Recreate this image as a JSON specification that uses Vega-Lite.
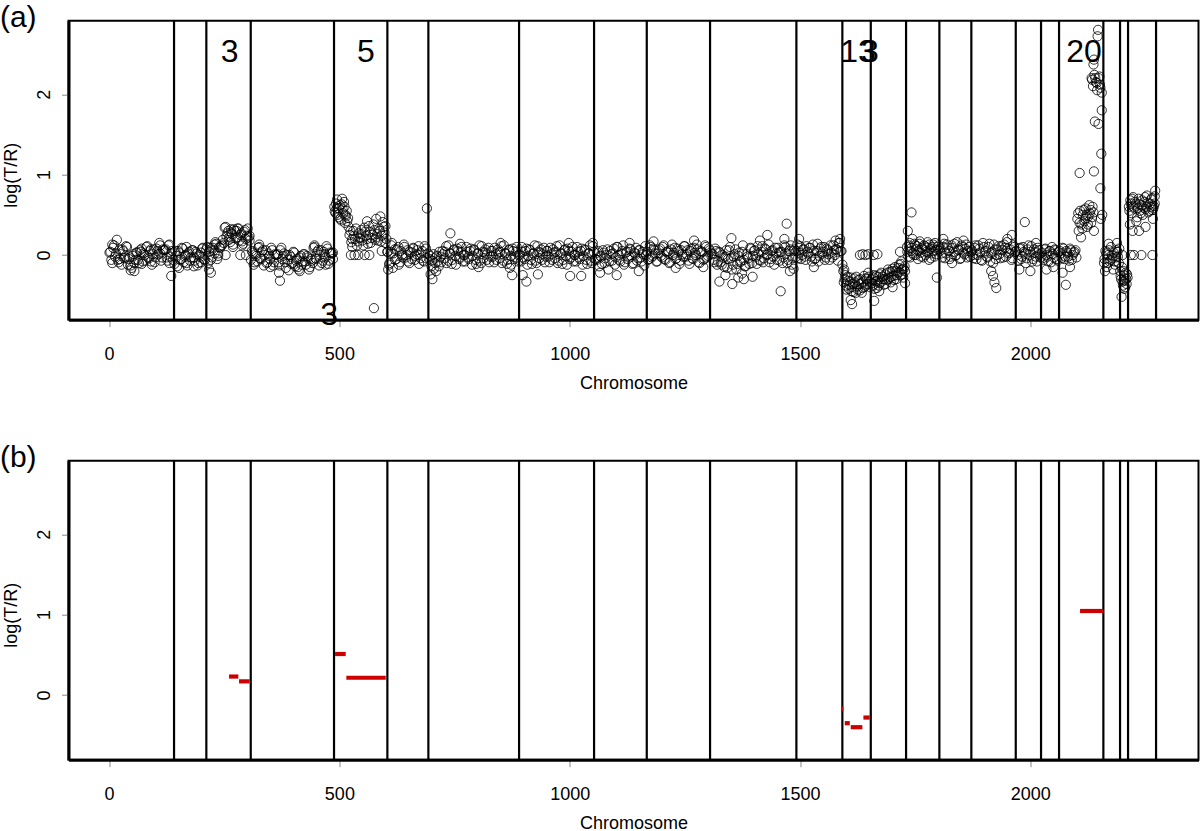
{
"$schema": "https://vega.github.io/schema/vega-lite/v6.json",
"background": "white",
"padding": {"left": -1.5, "top": 1.7, "right": 0, "bottom": 0},
"spacing": 141,
"bounds": "flush",
"config": {
  "view": {"stroke": "black", "strokeWidth": 2},
  "axis": {"grid": false, "labelFont": "Liberation Sans", "titleFont": "Liberation Sans", "labelFontSize": 18, "titleFontSize": 18, "titleFontWeight": "normal", "labelColor": "black", "titleColor": "black", "tickColor": "#888888", "tickSize": 7, "tickWidth": 1, "domainColor": "black", "domainWidth": 3},
  "axisX": {"labelPadding": 33, "labelBaseline": "alphabetic", "titleBaseline": "alphabetic", "titleY": 69, "labelFlush": false, "labelOverlap": false},
  "axisY": {"labelAngle": 270, "labelAlign": "center", "labelBaseline": "alphabetic", "labelPadding": 12.5, "titleAngle": 270, "titleAlign": "center", "titleBaseline": "alphabetic", "titleX": -51.7, "titleY": 154}
},
"datasets": {
  "bounds": [{"x":141.1},{"x":211.2},{"x":307.6},{"x":488.4},{"x":604.2},{"x":693.2},{"x":890.1},{"x":1052.9},{"x":1167.3},{"x":1304.7},{"x":1492.1},{"x":1591.9},{"x":1653.6},{"x":1730.2},{"x":1802.5},{"x":1871.9},{"x":1968.3},{"x":2023.2},{"x":2062.3},{"x":2158.5},{"x":2194.7},{"x":2212.1},{"x":2272.9}],
  "segs": [{"x0":260.5,"x1":280.7,"y":0.23},{"x0":282.2,"x1":305.4,"y":0.17},{"x0":490.6,"x1":513.8,"y":0.51},{"x0":515.1,"x1":600.7,"y":0.215},{"x0":1589.7,"x1":1594.1,"y":-0.17},{"x0":1597.1,"x1":1608,"y":-0.35},{"x0":1610.1,"x1":1635.3,"y":-0.4},{"x0":1637.6,"x1":1651.4,"y":-0.28},{"x0":2107.9,"x1":2157.8,"y":1.045}],
  "labs": [{"x":261.6,"y":2.405,"t":"3"},{"x":557.3,"y":2.405,"t":"5"},{"x":1626,"y":2.405,"t":"13"},{"x":1651.6,"y":2.405,"t":"3"},{"x":2116.6,"y":2.405,"t":"20"},{"x":477.6,"y":-0.866,"t":"3"}],
  "tagA": [{"x":-197.1,"y":2.836,"t":"(a)"}],
  "tagB": [{"x":-197.1,"y":2.836,"t":"(b)"}],
  "pts": [
{"x":1,"y":0.03},{"x":5,"y":-0.06},{"x":9,"y":0.09},{"x":13,"y":-0.02},{"x":17,"y":0.19},{"x":21,"y":-0.09},{"x":25,"y":0.01},{"x":29,"y":0.07},{"x":33,"y":-0.04},{"x":37,"y":0.11},{"x":41,"y":-0.12},{"x":45,"y":-0.03},{"x":49,"y":-0.16},{"x":53,"y":0.01},{"x":57,"y":-0.06},{"x":61,"y":0.03},{"x":65,"y":-0.1},{"x":69,"y":0.04},{"x":73,"y":-0.08},{"x":77,"y":0},{"x":81,"y":0.1},{"x":85,"y":-0.03},{"x":89,"y":0.05},{"x":93,"y":-0.12},{"x":97,"y":0.07},{"x":101,"y":-0.03},{"x":105,"y":0.05},{"x":109,"y":0.15},{"x":113,"y":-0.07},{"x":117,"y":0.07},{"x":121,"y":0.06},{"x":125,"y":-0.03},{"x":129,"y":0.12},{"x":133,"y":-0.02},{"x":137,"y":0.05},
{"x":7,"y":0.13},{"x":23,"y":-0.05},{"x":47,"y":-0.19},{"x":55,"y":-0.2},{"x":71,"y":0.08},{"x":91,"y":-0.08},{"x":111,"y":0.02},{"x":131,"y":-0.1},{"x":135,"y":-0.26},
{"x":3,"y":0.04},{"x":7,"y":-0.1},{"x":11,"y":0.12},{"x":15,"y":0.02},{"x":19,"y":-0.06},{"x":23,"y":0.07},{"x":27,"y":-0.12},{"x":31,"y":0.05},{"x":35,"y":-0.03},{"x":39,"y":0.1},{"x":43,"y":-0.05},{"x":47,"y":-0.13},{"x":51,"y":-0.01},{"x":55,"y":-0.1},{"x":59,"y":0.03},{"x":63,"y":-0.06},{"x":67,"y":0.06},{"x":71,"y":-0.11},{"x":75,"y":0.02},{"x":79,"y":-0.07},{"x":83,"y":0.11},{"x":87,"y":-0.04},{"x":91,"y":0.07},{"x":95,"y":0.01},{"x":99,"y":-0.09},{"x":103,"y":0.08},{"x":107,"y":0.01},{"x":111,"y":0.12},{"x":115,"y":-0.03},{"x":119,"y":0.06},{"x":123,"y":0.07},{"x":127,"y":-0.07},{"x":131,"y":0.13},{"x":135,"y":0.02},{"x":139,"y":-0.06},
{"x":142,"y":-0.11},{"x":146,"y":-0.01},{"x":150,"y":0.05},{"x":154,"y":-0.06},{"x":158,"y":0.09},{"x":162,"y":-0.09},{"x":166,"y":0},{"x":170,"y":-0.13},{"x":174,"y":0.04},{"x":178,"y":-0.03},{"x":182,"y":0.06},{"x":186,"y":-0.07},{"x":190,"y":0.02},{"x":194,"y":-0.1},{"x":198,"y":-0.02},{"x":202,"y":0.08},{"x":206,"y":-0.05},{"x":152,"y":-0.16},{"x":168,"y":0.1},{"x":184,"y":-0.14},{"x":200,"y":0.03},
{"x":144,"y":0.05},{"x":148,"y":-0.14},{"x":152,"y":0.03},{"x":156,"y":-0.05},{"x":160,"y":0.08},{"x":164,"y":-0.02},{"x":168,"y":-0.1},{"x":172,"y":0.02},{"x":176,"y":-0.07},{"x":180,"y":0.06},{"x":184,"y":-0.03},{"x":188,"y":0.04},{"x":192,"y":-0.13},{"x":196,"y":0},{"x":200,"y":-0.09},{"x":204,"y":0.09},{"x":208,"y":-0.06},
{"x":211,"y":0.07},{"x":215,"y":-0.1},{"x":219,"y":0.09},{"x":223,"y":-0.03},{"x":227,"y":0.06},{"x":231,"y":0.16},{"x":235,"y":-0.05},{"x":239,"y":0.1},{"x":243,"y":0.11},{"x":217,"y":-0.18},{"x":221,"y":-0.22},{"x":229,"y":0.13},{"x":237,"y":0.02},
{"x":213,"y":0.1},{"x":217,"y":0.04},{"x":221,"y":-0.06},{"x":225,"y":0.09},{"x":229,"y":0.02},{"x":233,"y":0.14},{"x":237,"y":-0.01},{"x":241,"y":0.09},{"x":245,"y":0.12},
{"x":247,"y":0.19},{"x":251,"y":0.34},{"x":255,"y":0.23},{"x":259,"y":0.3},{"x":263,"y":0.16},{"x":267,"y":0.26},{"x":271,"y":0.32},{"x":275,"y":0.21},{"x":279,"y":0.33},{"x":283,"y":0.18},{"x":287,"y":0.27},{"x":291,"y":0.14},{"x":295,"y":0.31},{"x":299,"y":0.24},{"x":303,"y":0.22},{"x":253,"y":0},{"x":265,"y":0.28},{"x":277,"y":0.3},{"x":285,"y":0},{"x":289,"y":0.12},{"x":297,"y":0},{"x":305,"y":0.18},{"x":261,"y":0.22},{"x":269,"y":0.1},
{"x":249,"y":0.15},{"x":253,"y":0.35},{"x":257,"y":0.27},{"x":261,"y":0.19},{"x":265,"y":0.32},{"x":269,"y":0.13},{"x":273,"y":0.3},{"x":277,"y":0.22},{"x":281,"y":0.33},{"x":285,"y":0.25},{"x":289,"y":0.17},{"x":293,"y":0.29},{"x":297,"y":0.2},{"x":301,"y":0.33},{"x":305,"y":0.24},
{"x":308,"y":-0.06},{"x":312,"y":0.03},{"x":316,"y":-0.09},{"x":320,"y":-0.01},{"x":324,"y":0.09},{"x":328,"y":-0.04},{"x":332,"y":0.04},{"x":336,"y":-0.13},{"x":340,"y":0.06},{"x":344,"y":-0.09},{"x":348,"y":-0.01},{"x":352,"y":0.09},{"x":356,"y":-0.13},{"x":360,"y":0.01},{"x":364,"y":0},{"x":368,"y":-0.09},{"x":372,"y":0.06},{"x":376,"y":-0.05},{"x":380,"y":0.02},{"x":384,"y":-0.16},{"x":388,"y":-0.06},{"x":392,"y":0},{"x":396,"y":-0.11},{"x":400,"y":0.04},{"x":404,"y":-0.14},{"x":408,"y":-0.05},{"x":412,"y":-0.18},{"x":416,"y":-0.01},{"x":420,"y":-0.08},{"x":424,"y":0.01},{"x":428,"y":-0.12},{"x":432,"y":-0.03},{"x":436,"y":-0.15},{"x":440,"y":-0.07},{"x":444,"y":0.09},{"x":448,"y":-0.04},{"x":452,"y":0.04},{"x":456,"y":-0.13},{"x":460,"y":0.06},{"x":464,"y":-0.07},{"x":468,"y":0.01},{"x":472,"y":0.11},{"x":476,"y":-0.11},{"x":480,"y":0.03},{"x":484,"y":0.02},
{"x":369,"y":-0.22},{"x":371,"y":-0.32},{"x":326,"y":0.13},{"x":350,"y":-0.15},{"x":414,"y":-0.2},{"x":446,"y":0.12},{"x":470,"y":-0.12},{"x":486,"y":-0.05},
{"x":310,"y":0.05},{"x":314,"y":-0.12},{"x":318,"y":0.01},{"x":322,"y":-0.08},{"x":326,"y":0.1},{"x":330,"y":-0.05},{"x":334,"y":0.06},{"x":338,"y":0},{"x":342,"y":-0.1},{"x":346,"y":0.02},{"x":350,"y":-0.05},{"x":354,"y":0.06},{"x":358,"y":-0.09},{"x":362,"y":0},{"x":366,"y":0.01},{"x":370,"y":-0.13},{"x":374,"y":0.09},{"x":378,"y":-0.01},{"x":382,"y":-0.09},{"x":386,"y":0},{"x":390,"y":-0.19},{"x":394,"y":-0.02},{"x":398,"y":-0.1},{"x":402,"y":0.03},{"x":406,"y":-0.07},{"x":410,"y":-0.15},{"x":414,"y":-0.03},{"x":418,"y":-0.12},{"x":422,"y":0.01},{"x":426,"y":-0.08},{"x":430,"y":-0.01},{"x":434,"y":-0.18},{"x":438,"y":-0.05},{"x":442,"y":-0.1},{"x":446,"y":0.1},{"x":450,"y":-0.05},{"x":454,"y":0.06},{"x":458,"y":0},{"x":462,"y":-0.1},{"x":466,"y":0.04},{"x":470,"y":-0.03},{"x":474,"y":0.08},{"x":478,"y":-0.07},{"x":482,"y":0.02},{"x":486,"y":0.03},
{"x":489,"y":0.6},{"x":492,"y":0.52},{"x":495,"y":0.69},{"x":498,"y":0.47},{"x":501,"y":0.62},{"x":504,"y":0.43},{"x":507,"y":0.57},{"x":510,"y":0.66},{"x":513,"y":0.5},{"x":516,"y":0.55},{"x":519,"y":0.46},{"x":494,"y":0.58},{"x":506,"y":0.7},{"x":512,"y":0.4},
{"x":490,"y":0.54},{"x":493,"y":0.64},{"x":496,"y":0.5},{"x":499,"y":0.58},{"x":502,"y":0.45},{"x":505,"y":0.63},{"x":508,"y":0.52},{"x":511,"y":0.6},{"x":514,"y":0.48},{"x":517,"y":0.42},{"x":520,"y":0.35},
{"x":522,"y":0.25},{"x":526,"y":0.16},{"x":530,"y":0.3},{"x":534,"y":0.2},{"x":538,"y":0.12},{"x":542,"y":0.27},{"x":546,"y":0.22},{"x":550,"y":0.18},{"x":554,"y":0.34},{"x":558,"y":0.24},{"x":562,"y":0.14},{"x":566,"y":0.29},{"x":570,"y":0.21},{"x":574,"y":0.38},{"x":578,"y":0.19},{"x":582,"y":0.26},{"x":586,"y":0.33},{"x":590,"y":0.17},{"x":594,"y":0.41},{"x":598,"y":0.28},{"x":602,"y":0.2},
{"x":524,"y":0.3},{"x":528,"y":0.2},{"x":532,"y":0.24},{"x":536,"y":0.33},{"x":540,"y":0.17},{"x":544,"y":0.21},{"x":548,"y":0.26},{"x":552,"y":0.12},{"x":556,"y":0.29},{"x":560,"y":0.2},{"x":564,"y":0.36},{"x":568,"y":0.15},{"x":572,"y":0.25},{"x":576,"y":0.31},{"x":580,"y":0.22},{"x":584,"y":0.18},{"x":588,"y":0.3},{"x":592,"y":0.24},{"x":596,"y":0.35},{"x":600,"y":0.15},
{"x":525,"y":0},{"x":533,"y":0},{"x":541,"y":0},{"x":555,"y":0},{"x":565,"y":0},{"x":575,"y":-0.66},{"x":580,"y":0.45},{"x":560,"y":0.42},{"x":592,"y":0.05},{"x":600,"y":0.36},{"x":528,"y":0.1},{"x":548,"y":0.31},{"x":589,"y":0.48},
{"x":604,"y":0.04},{"x":608,"y":-0.12},{"x":612,"y":0.02},{"x":616,"y":-0.16},{"x":620,"y":0.07},{"x":624,"y":-0.05},{"x":628,"y":0.1},{"x":632,"y":-0.09},{"x":636,"y":0},{"x":640,"y":0.13},{"x":644,"y":-0.03},{"x":648,"y":0.06},{"x":652,"y":-0.1},{"x":656,"y":0.03},{"x":660,"y":0.09},{"x":664,"y":-0.06},{"x":668,"y":0.01},{"x":672,"y":0.11},{"x":676,"y":-0.04},{"x":680,"y":0.05},{"x":684,"y":-0.08},{"x":688,"y":0.08},{"x":692,"y":0.02},{"x":606,"y":-0.18},{"x":614,"y":0.15},{"x":690,"y":0.58},
{"x":605,"y":0.04},{"x":609,"y":-0.1},{"x":613,"y":0.12},{"x":617,"y":0.02},{"x":621,"y":-0.06},{"x":625,"y":0.07},{"x":629,"y":-0.12},{"x":633,"y":0.05},{"x":637,"y":-0.03},{"x":641,"y":0.1},{"x":645,"y":0},{"x":649,"y":-0.08},{"x":653,"y":0.04},{"x":657,"y":-0.05},{"x":661,"y":0.08},{"x":665,"y":-0.01},{"x":669,"y":0.06},{"x":673,"y":-0.11},{"x":677,"y":0.02},{"x":681,"y":-0.07},{"x":685,"y":0.11},{"x":689,"y":-0.04},
{"x":696,"y":-0.05},{"x":700,"y":-0.14},{"x":704,"y":0.01},{"x":708,"y":-0.1},{"x":712,"y":-0.01},{"x":716,"y":-0.14},{"x":720,"y":-0.02},{"x":724,"y":0.05},{"x":728,"y":-0.04},{"x":732,"y":0.11},{"x":736,"y":-0.07},{"x":740,"y":0.02},{"x":744,"y":-0.11},{"x":748,"y":0.06},{"x":752,"y":-0.01},{"x":756,"y":0.08},{"x":760,"y":-0.05},{"x":764,"y":0.04},{"x":768,"y":-0.08},{"x":772,"y":0},{"x":776,"y":0.1},{"x":780,"y":-0.03},{"x":784,"y":0.05},{"x":788,"y":-0.12},{"x":792,"y":0.07},{"x":796,"y":-0.06},{"x":800,"y":0.02},{"x":804,"y":0.12},{"x":808,"y":-0.1},{"x":812,"y":0.04},{"x":816,"y":0.03},{"x":820,"y":-0.06},{"x":824,"y":0.09},{"x":828,"y":-0.02},{"x":832,"y":0.05},{"x":836,"y":-0.09},{"x":840,"y":0.01},{"x":844,"y":0.07},{"x":848,"y":-0.04},{"x":852,"y":0.11},{"x":856,"y":-0.07},{"x":860,"y":0.02},{"x":864,"y":-0.11},{"x":868,"y":0.06},{"x":872,"y":-0.01},{"x":876,"y":0.08},{"x":880,"y":-0.05},{"x":884,"y":0.04},{"x":888,"y":-0.08},
{"x":698,"y":-0.24},{"x":702,"y":-0.3},{"x":710,"y":-0.2},{"x":741,"y":0.27},{"x":762,"y":0.14},{"x":802,"y":-0.15},{"x":850,"y":0.15},{"x":870,"y":-0.16},{"x":875,"y":-0.25},
{"x":697,"y":-0.01},{"x":701,"y":-0.07},{"x":705,"y":-0.17},{"x":709,"y":-0.03},{"x":713,"y":-0.08},{"x":717,"y":0.04},{"x":721,"y":-0.09},{"x":725,"y":0.01},{"x":729,"y":0.04},{"x":733,"y":-0.1},{"x":737,"y":0.12},{"x":741,"y":0.02},{"x":745,"y":-0.06},{"x":749,"y":0.07},{"x":753,"y":-0.12},{"x":757,"y":0.05},{"x":761,"y":-0.03},{"x":765,"y":0.1},{"x":769,"y":0},{"x":773,"y":-0.08},{"x":777,"y":0.04},{"x":781,"y":-0.05},{"x":785,"y":0.08},{"x":789,"y":-0.01},{"x":793,"y":0.06},{"x":797,"y":-0.11},{"x":801,"y":0.02},{"x":805,"y":-0.07},{"x":809,"y":0.11},{"x":813,"y":-0.04},{"x":817,"y":0.07},{"x":821,"y":0.01},{"x":825,"y":-0.09},{"x":829,"y":0.05},{"x":833,"y":-0.02},{"x":837,"y":0.09},{"x":841,"y":-0.06},{"x":845,"y":0.03},{"x":849,"y":0.04},{"x":853,"y":-0.1},{"x":857,"y":0.12},{"x":861,"y":0.02},{"x":865,"y":-0.06},{"x":869,"y":0.07},{"x":873,"y":-0.12},{"x":877,"y":0.05},{"x":881,"y":-0.03},{"x":885,"y":0.1},{"x":889,"y":0},
{"x":892,"y":0},{"x":896,"y":0.1},{"x":900,"y":-0.03},{"x":904,"y":0.05},{"x":908,"y":-0.12},{"x":912,"y":0.07},{"x":916,"y":-0.06},{"x":920,"y":0.02},{"x":924,"y":0.12},{"x":928,"y":-0.1},{"x":932,"y":0.04},{"x":936,"y":0.03},{"x":940,"y":-0.06},{"x":944,"y":0.09},{"x":948,"y":-0.02},{"x":952,"y":0.05},{"x":956,"y":-0.09},{"x":960,"y":0.01},{"x":964,"y":0.07},{"x":968,"y":-0.04},{"x":972,"y":0.11},{"x":976,"y":-0.07},{"x":980,"y":0.02},{"x":984,"y":-0.11},{"x":988,"y":0.06},{"x":992,"y":-0.01},{"x":996,"y":0.08},{"x":1000,"y":-0.05},{"x":1004,"y":0.04},{"x":1008,"y":-0.08},{"x":1012,"y":0},{"x":1016,"y":0.1},{"x":1020,"y":-0.03},{"x":1024,"y":0.05},{"x":1028,"y":-0.12},{"x":1032,"y":0.07},{"x":1036,"y":-0.06},{"x":1040,"y":0.02},{"x":1044,"y":0.12},{"x":1048,"y":-0.1},{"x":1052,"y":0.04},
{"x":898,"y":-0.25},{"x":906,"y":-0.33},{"x":931,"y":-0.24},{"x":998,"y":0.15},{"x":1001,"y":-0.26},{"x":1025,"y":-0.26},{"x":1050,"y":0.15},
{"x":894,"y":-0.08},{"x":898,"y":0.04},{"x":902,"y":-0.05},{"x":906,"y":0.08},{"x":910,"y":-0.01},{"x":914,"y":0.06},{"x":918,"y":-0.11},{"x":922,"y":0.02},{"x":926,"y":-0.07},{"x":930,"y":0.11},{"x":934,"y":-0.04},{"x":938,"y":0.07},{"x":942,"y":0.01},{"x":946,"y":-0.09},{"x":950,"y":0.05},{"x":954,"y":-0.02},{"x":958,"y":0.09},{"x":962,"y":-0.06},{"x":966,"y":0.03},{"x":970,"y":0.04},{"x":974,"y":-0.1},{"x":978,"y":0.12},{"x":982,"y":0.02},{"x":986,"y":-0.06},{"x":990,"y":0.07},{"x":994,"y":-0.12},{"x":998,"y":0.05},{"x":1002,"y":-0.03},{"x":1006,"y":0.1},{"x":1010,"y":0},{"x":1014,"y":-0.08},{"x":1018,"y":0.04},{"x":1022,"y":-0.05},{"x":1026,"y":0.08},{"x":1030,"y":-0.01},{"x":1034,"y":0.06},{"x":1038,"y":-0.11},{"x":1042,"y":0.02},{"x":1046,"y":-0.07},{"x":1050,"y":0.11},
{"x":1056,"y":-0.05},{"x":1060,"y":0.03},{"x":1064,"y":-0.14},{"x":1068,"y":-0.02},{"x":1072,"y":0.06},{"x":1076,"y":-0.1},{"x":1080,"y":0},{"x":1084,"y":-0.18},{"x":1088,"y":0.05},{"x":1092,"y":-0.07},{"x":1096,"y":0.08},{"x":1100,"y":-0.03},{"x":1104,"y":0.1},{"x":1108,"y":-0.06},{"x":1112,"y":0.02},{"x":1116,"y":0.12},{"x":1120,"y":-0.09},{"x":1124,"y":0.04},{"x":1128,"y":-0.01},{"x":1132,"y":0.07},{"x":1136,"y":-0.11},{"x":1140,"y":0.03},{"x":1144,"y":0.09},{"x":1148,"y":-0.04},{"x":1152,"y":0.06},{"x":1156,"y":-0.08},{"x":1160,"y":0.01},{"x":1164,"y":0.11},{"x":1066,"y":-0.22},{"x":1102,"y":-0.25},{"x":1130,"y":0.15},{"x":1150,"y":-0.2},
{"x":1058,"y":-0.06},{"x":1062,"y":0.05},{"x":1066,"y":-0.01},{"x":1070,"y":-0.11},{"x":1074,"y":0.03},{"x":1078,"y":-0.04},{"x":1082,"y":0.07},{"x":1086,"y":-0.08},{"x":1090,"y":0.01},{"x":1094,"y":0.02},{"x":1098,"y":-0.12},{"x":1102,"y":0.1},{"x":1106,"y":0},{"x":1110,"y":-0.08},{"x":1114,"y":0.05},{"x":1118,"y":-0.12},{"x":1122,"y":0.03},{"x":1126,"y":-0.05},{"x":1130,"y":0.08},{"x":1134,"y":-0.02},{"x":1138,"y":-0.1},{"x":1142,"y":0.02},{"x":1146,"y":-0.07},{"x":1150,"y":0.06},{"x":1154,"y":-0.03},{"x":1158,"y":0.04},{"x":1162,"y":-0.13},{"x":1166,"y":0},
{"x":1168,"y":0.04},{"x":1172,"y":-0.05},{"x":1176,"y":0.1},{"x":1180,"y":-0.01},{"x":1184,"y":0.06},{"x":1188,"y":-0.08},{"x":1192,"y":0.02},{"x":1196,"y":0.08},{"x":1200,"y":-0.03},{"x":1204,"y":0.12},{"x":1208,"y":-0.06},{"x":1212,"y":0.03},{"x":1216,"y":-0.1},{"x":1220,"y":0.07},{"x":1224,"y":0},{"x":1228,"y":0.09},{"x":1232,"y":-0.04},{"x":1236,"y":0.05},{"x":1240,"y":-0.07},{"x":1244,"y":0.01},{"x":1248,"y":0.11},{"x":1252,"y":-0.02},{"x":1256,"y":0.06},{"x":1260,"y":-0.11},{"x":1264,"y":0.08},{"x":1268,"y":-0.05},{"x":1272,"y":0.03},{"x":1276,"y":0.13},{"x":1280,"y":-0.09},{"x":1284,"y":0.05},{"x":1288,"y":0.04},{"x":1292,"y":-0.05},{"x":1296,"y":0.1},{"x":1300,"y":-0.01},{"x":1304,"y":0.06},{"x":1182,"y":0.17},{"x":1230,"y":-0.16},{"x":1270,"y":0.18},{"x":1290,"y":-0.15},
{"x":1170,"y":-0.06},{"x":1174,"y":0.12},{"x":1178,"y":-0.03},{"x":1182,"y":0.08},{"x":1186,"y":0.02},{"x":1190,"y":-0.08},{"x":1194,"y":0.06},{"x":1198,"y":-0.01},{"x":1202,"y":0.1},{"x":1206,"y":-0.05},{"x":1210,"y":0.04},{"x":1214,"y":0.05},{"x":1218,"y":-0.09},{"x":1222,"y":0.13},{"x":1226,"y":0.03},{"x":1230,"y":-0.05},{"x":1234,"y":0.08},{"x":1238,"y":-0.11},{"x":1242,"y":0.06},{"x":1246,"y":-0.02},{"x":1250,"y":0.11},{"x":1254,"y":0.01},{"x":1258,"y":-0.07},{"x":1262,"y":0.05},{"x":1266,"y":-0.04},{"x":1270,"y":0.09},{"x":1274,"y":0},{"x":1278,"y":0.07},{"x":1282,"y":-0.1},{"x":1286,"y":0.03},{"x":1290,"y":-0.06},{"x":1294,"y":0.12},{"x":1298,"y":-0.03},{"x":1302,"y":0.08},
{"x":1308,"y":0.02},{"x":1312,"y":-0.06},{"x":1316,"y":0.08},{"x":1320,"y":-0.12},{"x":1324,"y":0.04},{"x":1328,"y":-0.09},{"x":1332,"y":0},{"x":1336,"y":-0.15},{"x":1340,"y":0.06},{"x":1344,"y":-0.05},{"x":1348,"y":0.1},{"x":1352,"y":-0.18},{"x":1356,"y":-0.02},{"x":1360,"y":0.07},{"x":1364,"y":-0.11},{"x":1368,"y":0.03},{"x":1372,"y":-0.07},{"x":1376,"y":0.12},{"x":1380,"y":-0.14},{"x":1384,"y":0.01},{"x":1388,"y":-0.04},{"x":1392,"y":0.09},{"x":1396,"y":-0.1},{"x":1400,"y":0.05},{"x":1404,"y":-0.02},{"x":1408,"y":0.11},{"x":1412,"y":-0.06},{"x":1416,"y":0.04},{"x":1420,"y":-0.09},{"x":1424,"y":0.08},{"x":1428,"y":0},{"x":1432,"y":0.13},{"x":1436,"y":-0.05},{"x":1440,"y":0.06},{"x":1444,"y":-0.12},{"x":1448,"y":0.02},{"x":1452,"y":0.09},{"x":1456,"y":-0.07},{"x":1460,"y":0.04},{"x":1464,"y":-0.03},{"x":1468,"y":0.1},{"x":1472,"y":-0.1},{"x":1476,"y":0.05},{"x":1480,"y":0.12},{"x":1484,"y":-0.04},{"x":1488,"y":0.07},
{"x":1325,"y":-0.33},{"x":1338,"y":-0.25},{"x":1353,"y":-0.36},{"x":1366,"y":-0.28},{"x":1374,"y":-0.23},{"x":1378,"y":-0.3},{"x":1397,"y":-0.27},{"x":1351,"y":0.21},{"x":1429,"y":0.25},{"x":1413,"y":0.18},{"x":1458,"y":-0.45},{"x":1471,"y":0.39},{"x":1466,"y":0.2},{"x":1478,"y":-0.2},{"x":1486,"y":-0.17},
{"x":1310,"y":0.01},{"x":1314,"y":-0.09},{"x":1318,"y":0.05},{"x":1322,"y":-0.08},{"x":1326,"y":0.03},{"x":1330,"y":-0.12},{"x":1334,"y":-0.03},{"x":1338,"y":-0.02},{"x":1342,"y":-0.16},{"x":1346,"y":0.06},{"x":1350,"y":-0.04},{"x":1354,"y":-0.12},{"x":1358,"y":0.01},{"x":1362,"y":-0.18},{"x":1366,"y":-0.01},{"x":1370,"y":-0.09},{"x":1374,"y":0.04},{"x":1378,"y":-0.06},{"x":1382,"y":-0.14},{"x":1386,"y":-0.02},{"x":1390,"y":-0.11},{"x":1394,"y":0.08},{"x":1398,"y":-0.01},{"x":1402,"y":0.06},{"x":1406,"y":-0.11},{"x":1410,"y":0.02},{"x":1414,"y":-0.07},{"x":1418,"y":0.11},{"x":1422,"y":-0.04},{"x":1426,"y":0.07},{"x":1430,"y":0.01},{"x":1434,"y":-0.09},{"x":1438,"y":0.05},{"x":1442,"y":-0.02},{"x":1446,"y":0.09},{"x":1450,"y":-0.06},{"x":1454,"y":0.03},{"x":1458,"y":0.04},{"x":1462,"y":-0.1},{"x":1466,"y":0.12},{"x":1470,"y":0.02},{"x":1474,"y":-0.06},{"x":1478,"y":0.07},{"x":1482,"y":-0.12},{"x":1486,"y":0.05},{"x":1490,"y":-0.03},
{"x":1492,"y":0.05},{"x":1496,"y":-0.04},{"x":1500,"y":0.11},{"x":1504,"y":0},{"x":1508,"y":0.07},{"x":1512,"y":-0.06},{"x":1516,"y":0.04},{"x":1520,"y":0.09},{"x":1524,"y":-0.02},{"x":1528,"y":0.13},{"x":1532,"y":-0.05},{"x":1536,"y":0.05},{"x":1540,"y":-0.08},{"x":1544,"y":0.08},{"x":1548,"y":0.02},{"x":1552,"y":0.1},{"x":1556,"y":-0.03},{"x":1560,"y":0.06},{"x":1564,"y":-0.06},{"x":1568,"y":0.03},{"x":1572,"y":0.12},{"x":1576,"y":0},{"x":1580,"y":0.07},{"x":1584,"y":0.15},{"x":1588,"y":0.05},{"x":1498,"y":0.2},{"x":1530,"y":-0.15},{"x":1577,"y":0.18},{"x":1587,"y":0.2},
{"x":1494,"y":0.13},{"x":1498,"y":0.03},{"x":1502,"y":-0.05},{"x":1506,"y":0.07},{"x":1510,"y":-0.02},{"x":1514,"y":0.11},{"x":1518,"y":0.02},{"x":1522,"y":0.09},{"x":1526,"y":-0.08},{"x":1530,"y":0.05},{"x":1534,"y":-0.04},{"x":1538,"y":0.14},{"x":1542,"y":-0.01},{"x":1546,"y":0.1},{"x":1550,"y":0.04},{"x":1554,"y":-0.06},{"x":1558,"y":0.08},{"x":1562,"y":0.01},{"x":1566,"y":0.12},{"x":1570,"y":-0.03},{"x":1574,"y":0.06},{"x":1578,"y":0.07},{"x":1582,"y":-0.07},{"x":1586,"y":0.15},{"x":1590,"y":0.05},
{"x":1594,"y":-0.2},{"x":1597,"y":-0.3},{"x":1600,"y":-0.38},{"x":1603,"y":-0.27},{"x":1606,"y":-0.42},{"x":1609,"y":-0.33},{"x":1612,"y":-0.45},{"x":1615,"y":-0.36},{"x":1618,"y":-0.29},{"x":1621,"y":-0.47},{"x":1624,"y":-0.39},{"x":1627,"y":-0.31},{"x":1630,"y":-0.44},{"x":1633,"y":-0.35},{"x":1636,"y":-0.41},{"x":1639,"y":-0.26},{"x":1642,"y":-0.38},{"x":1645,"y":-0.3},{"x":1648,"y":-0.22},{"x":1651,"y":-0.33},{"x":1592,"y":-0.12},{"x":1596,"y":-0.18},{"x":1610,"y":-0.56},{"x":1613,"y":-0.61},
{"x":1595,"y":-0.34},{"x":1598,"y":-0.25},{"x":1601,"y":-0.43},{"x":1604,"y":-0.32},{"x":1607,"y":-0.37},{"x":1610,"y":-0.28},{"x":1613,"y":-0.4},{"x":1616,"y":-0.46},{"x":1619,"y":-0.34},{"x":1622,"y":-0.27},{"x":1625,"y":-0.43},{"x":1628,"y":-0.36},{"x":1631,"y":-0.3},{"x":1634,"y":-0.47},{"x":1637,"y":-0.33},{"x":1640,"y":-0.4},{"x":1643,"y":-0.29},{"x":1646,"y":-0.36},{"x":1649,"y":-0.27},{"x":1652,"y":-0.4},
{"x":1630,"y":0},{"x":1636,"y":0.01},{"x":1642,"y":0},{"x":1648,"y":0.01},{"x":1660,"y":0},{"x":1668,"y":0.01},
{"x":1655,"y":-0.3},{"x":1658,"y":-0.38},{"x":1661,"y":-0.25},{"x":1664,"y":-0.33},{"x":1667,"y":-0.41},{"x":1670,"y":-0.27},{"x":1673,"y":-0.35},{"x":1676,"y":-0.22},{"x":1679,"y":-0.3},{"x":1682,"y":-0.37},{"x":1685,"y":-0.24},{"x":1688,"y":-0.31},{"x":1691,"y":-0.18},{"x":1694,"y":-0.28},{"x":1697,"y":-0.34},{"x":1700,"y":-0.2},{"x":1703,"y":-0.26},{"x":1706,"y":-0.15},{"x":1709,"y":-0.3},{"x":1712,"y":-0.22},{"x":1715,"y":-0.12},{"x":1718,"y":-0.25},{"x":1721,"y":-0.18},{"x":1724,"y":-0.28},{"x":1727,"y":-0.14},{"x":1661,"y":-0.57},{"x":1672,"y":-0.45},{"x":1701,"y":-0.4},{"x":1720,"y":-0.08},{"x":1728,"y":-0.35},{"x":1717,"y":0.04},
{"x":1656,"y":-0.35},{"x":1659,"y":-0.28},{"x":1662,"y":-0.42},{"x":1665,"y":-0.26},{"x":1668,"y":-0.32},{"x":1671,"y":-0.38},{"x":1674,"y":-0.24},{"x":1677,"y":-0.33},{"x":1680,"y":-0.27},{"x":1683,"y":-0.3},{"x":1686,"y":-0.36},{"x":1689,"y":-0.22},{"x":1692,"y":-0.3},{"x":1695,"y":-0.21},{"x":1698,"y":-0.27},{"x":1701,"y":-0.17},{"x":1704,"y":-0.31},{"x":1707,"y":-0.2},{"x":1710,"y":-0.25},{"x":1713,"y":-0.16},{"x":1716,"y":-0.21},{"x":1719,"y":-0.11},{"x":1722,"y":-0.24},{"x":1725,"y":-0.17},{"x":1728,"y":-0.2},
{"x":1732,"y":0.1},{"x":1735,"y":-0.02},{"x":1738,"y":0.15},{"x":1741,"y":0.05},{"x":1744,"y":0.2},{"x":1747,"y":0},{"x":1750,"y":0.12},{"x":1753,"y":0.07},{"x":1756,"y":-0.05},{"x":1759,"y":0.14},{"x":1762,"y":0.03},{"x":1765,"y":0.09},{"x":1768,"y":-0.03},{"x":1771,"y":0.11},{"x":1774,"y":0.04},{"x":1777,"y":0.16},{"x":1780,"y":-0.06},{"x":1783,"y":0.08},{"x":1786,"y":0.02},{"x":1789,"y":0.13},{"x":1792,"y":-0.02},{"x":1795,"y":0.06},{"x":1798,"y":0.1},{"x":1734,"y":0.3},{"x":1742,"y":0.53},{"x":1797,"y":-0.28},
{"x":1733,"y":0.04},{"x":1736,"y":0.12},{"x":1739,"y":-0.03},{"x":1742,"y":0.09},{"x":1745,"y":0.02},{"x":1748,"y":0.14},{"x":1751,"y":0},{"x":1754,"y":0.11},{"x":1757,"y":0.05},{"x":1760,"y":0.17},{"x":1763,"y":-0.02},{"x":1766,"y":0.07},{"x":1769,"y":0.12},{"x":1772,"y":0},{"x":1775,"y":0.09},{"x":1778,"y":0.03},{"x":1781,"y":0.13},{"x":1784,"y":-0.04},{"x":1787,"y":0.1},{"x":1790,"y":0.05},{"x":1793,"y":0.15},{"x":1796,"y":0.01},{"x":1799,"y":0.07},{"x":1801,"y":0.12},
{"x":1805,"y":0.08},{"x":1809,"y":-0.03},{"x":1813,"y":0.14},{"x":1817,"y":0.02},{"x":1821,"y":0.09},{"x":1825,"y":-0.05},{"x":1829,"y":0.12},{"x":1833,"y":0.04},{"x":1837,"y":-0.01},{"x":1841,"y":0.16},{"x":1845,"y":0.06},{"x":1849,"y":-0.04},{"x":1853,"y":0.1},{"x":1857,"y":0.01},{"x":1861,"y":0.13},{"x":1865,"y":0.05},{"x":1869,"y":-0.02},{"x":1811,"y":0.2},{"x":1830,"y":-0.1},{"x":1855,"y":0.18},
{"x":1807,"y":0.02},{"x":1811,"y":0.1},{"x":1815,"y":-0.04},{"x":1819,"y":0.13},{"x":1823,"y":0.05},{"x":1827,"y":-0.02},{"x":1831,"y":0.09},{"x":1835,"y":0.14},{"x":1839,"y":0},{"x":1843,"y":0.07},{"x":1847,"y":-0.05},{"x":1851,"y":0.12},{"x":1855,"y":0.03},{"x":1859,"y":0.08},{"x":1863,"y":-0.03},{"x":1867,"y":0.1},{"x":1871,"y":0.04},
{"x":1873,"y":0.06},{"x":1877,"y":-0.04},{"x":1881,"y":0.12},{"x":1885,"y":0},{"x":1889,"y":0.08},{"x":1893,"y":-0.06},{"x":1897,"y":0.15},{"x":1901,"y":0.03},{"x":1905,"y":-0.02},{"x":1909,"y":0.1},{"x":1913,"y":-0.08},{"x":1917,"y":0.04},{"x":1921,"y":0.13},{"x":1925,"y":-0.05},{"x":1929,"y":0.07},{"x":1933,"y":0.01},{"x":1937,"y":0.11},{"x":1941,"y":-0.03},{"x":1945,"y":0.09},{"x":1949,"y":0.16},{"x":1953,"y":0.02},{"x":1957,"y":0.07},{"x":1961,"y":-0.04},{"x":1965,"y":0.1},{"x":1915,"y":-0.2},{"x":1919,"y":-0.26},{"x":1922,"y":-0.34},{"x":1926,"y":-0.41},{"x":1950,"y":0.2},{"x":1960,"y":0.25},
{"x":1875,"y":0},{"x":1879,"y":0.09},{"x":1883,"y":-0.05},{"x":1887,"y":0.12},{"x":1891,"y":0.03},{"x":1895,"y":-0.07},{"x":1899,"y":0.1},{"x":1903,"y":0.05},{"x":1907,"y":-0.03},{"x":1911,"y":0.14},{"x":1915,"y":0.02},{"x":1919,"y":-0.1},{"x":1923,"y":0.07},{"x":1927,"y":0},{"x":1931,"y":0.11},{"x":1935,"y":-0.04},{"x":1939,"y":0.06},{"x":1943,"y":0.13},{"x":1947,"y":-0.02},{"x":1951,"y":0.08},{"x":1955,"y":0.03},{"x":1959,"y":-0.06},{"x":1963,"y":0.12},{"x":1967,"y":0.04},
{"x":1970,"y":0.05},{"x":1974,"y":-0.07},{"x":1978,"y":0.09},{"x":1982,"y":-0.02},{"x":1986,"y":0.04},{"x":1990,"y":-0.1},{"x":1994,"y":0.07},{"x":1998,"y":0},{"x":2002,"y":0.11},{"x":2006,"y":-0.05},{"x":2010,"y":0.03},{"x":2014,"y":-0.08},{"x":2018,"y":0.06},{"x":2022,"y":-0.03},{"x":1988,"y":0.41},{"x":1976,"y":-0.18},{"x":2000,"y":-0.2},{"x":2012,"y":0.15},
{"x":1972,"y":0},{"x":1976,"y":0.08},{"x":1980,"y":-0.05},{"x":1984,"y":0.1},{"x":1988,"y":0.02},{"x":1992,"y":-0.04},{"x":1996,"y":0.12},{"x":2000,"y":0.04},{"x":2004,"y":-0.08},{"x":2008,"y":0.07},{"x":2012,"y":-0.02},{"x":2016,"y":0.09},{"x":2020,"y":0.01},
{"x":2025,"y":0.03},{"x":2029,"y":-0.06},{"x":2033,"y":0.08},{"x":2037,"y":-0.02},{"x":2041,"y":0.05},{"x":2045,"y":-0.09},{"x":2049,"y":0.01},{"x":2053,"y":0.07},{"x":2057,"y":-0.05},{"x":2061,"y":0.04},{"x":2035,"y":-0.18},{"x":2050,"y":-0.15},
{"x":2027,"y":-0.04},{"x":2031,"y":0.07},{"x":2035,"y":0},{"x":2039,"y":-0.08},{"x":2043,"y":0.05},{"x":2047,"y":0.1},{"x":2051,"y":-0.03},{"x":2055,"y":0.06},{"x":2059,"y":-0.07},
{"x":2064,"y":0.05},{"x":2068,"y":-0.04},{"x":2072,"y":0.08},{"x":2076,"y":-0.02},{"x":2080,"y":0.03},{"x":2084,"y":-0.07},{"x":2088,"y":0.06},{"x":2092,"y":0},{"x":2096,"y":0.04},{"x":2100,"y":-0.03},{"x":2070,"y":-0.22},{"x":2077,"y":-0.37},{"x":2086,"y":-0.15},
{"x":2066,"y":0.02},{"x":2070,"y":0.09},{"x":2074,"y":-0.05},{"x":2078,"y":0.05},{"x":2082,"y":-0.02},{"x":2086,"y":0.08},{"x":2090,"y":-0.06},{"x":2094,"y":0.03},{"x":2098,"y":0.06},
{"x":2102,"y":0.45},{"x":2105,"y":0.3},{"x":2108,"y":0.55},{"x":2111,"y":0.38},{"x":2114,"y":0.5},{"x":2117,"y":0.42},{"x":2120,"y":0.58},{"x":2123,"y":0.35},{"x":2126,"y":0.48},{"x":2129,"y":0.52},{"x":2132,"y":0.4},{"x":2135,"y":0.6},{"x":2138,"y":0.3},{"x":2110,"y":0.22},{"x":2128,"y":0.62},
{"x":2104,"y":0.52},{"x":2107,"y":0.4},{"x":2113,"y":0.33},{"x":2116,"y":0.56},{"x":2119,"y":0.45},{"x":2122,"y":0.5},{"x":2125,"y":0.38},{"x":2131,"y":0.56},{"x":2134,"y":0.47},{"x":2137,"y":0.53},
{"x":2107,"y":1.02},{"x":2138,"y":1.04},{"x":2152,"y":0.83},{"x":2156,"y":0.5},{"x":2154,"y":1.26},{"x":2155,"y":1.8},{"x":2140,"y":1.66},{"x":2148,"y":1.63},{"x":2133,"y":2.2},{"x":2136,"y":2.1},{"x":2139,"y":2.24},{"x":2142,"y":2.15},{"x":2145,"y":2.05},{"x":2148,"y":2.2},{"x":2151,"y":2.12},{"x":2155,"y":2.02},{"x":2147,"y":2.8},{"x":2146,"y":2.72},{"x":2138,"y":2.43},{"x":2137,"y":2.37},{"x":2153,"y":0.45},
{"x":2134,"y":2.18},{"x":2141,"y":2.2},{"x":2144,"y":2.14},{"x":2150,"y":2.22},{"x":2152,"y":2.08},
{"x":2160,"y":-0.1},{"x":2163,"y":0.05},{"x":2166,"y":-0.15},{"x":2169,"y":0},{"x":2172,"y":-0.08},{"x":2175,"y":0.1},{"x":2178,"y":-0.04},{"x":2181,"y":0.03},{"x":2184,"y":-0.12},{"x":2187,"y":0.06},{"x":2190,"y":-0.02},{"x":2193,"y":0.08},{"x":2162,"y":-0.2},{"x":2170,"y":0.14},{"x":2180,"y":-0.18},{"x":2188,"y":0.15},
{"x":2161,"y":-0.05},{"x":2165,"y":0.02},{"x":2168,"y":-0.1},{"x":2171,"y":0.06},{"x":2174,"y":-0.06},{"x":2177,"y":0},{"x":2183,"y":-0.08},{"x":2186,"y":-0.03},{"x":2189,"y":0.04},{"x":2192,"y":-0.1},
{"x":2195,"y":-0.2},{"x":2197,"y":-0.3},{"x":2199,"y":-0.15},{"x":2201,"y":-0.38},{"x":2203,"y":-0.25},{"x":2205,"y":-0.32},{"x":2207,"y":-0.22},{"x":2209,"y":-0.36},{"x":2211,"y":-0.28},{"x":2198,"y":-0.52},{"x":2204,"y":-0.42},
{"x":2196,"y":-0.26},{"x":2200,"y":-0.33},{"x":2202,"y":-0.2},{"x":2206,"y":-0.4},{"x":2208,"y":-0.3},{"x":2210,"y":-0.24},
{"x":2200,"y":0},{"x":2218,"y":0},{"x":2225,"y":0},{"x":2241,"y":0},{"x":2265,"y":0},
{"x":2214,"y":0.6},{"x":2217,"y":0.68},{"x":2220,"y":0.52},{"x":2223,"y":0.72},{"x":2226,"y":0.58},{"x":2229,"y":0.64},{"x":2232,"y":0.47},{"x":2235,"y":0.7},{"x":2238,"y":0.55},{"x":2241,"y":0.62},{"x":2244,"y":0.5},{"x":2247,"y":0.66},{"x":2250,"y":0.57},{"x":2253,"y":0.74},{"x":2256,"y":0.53},{"x":2259,"y":0.63},{"x":2262,"y":0.69},{"x":2265,"y":0.56},{"x":2268,"y":0.61},{"x":2271,"y":0.8},{"x":2216,"y":0.38},{"x":2222,"y":0.3},{"x":2230,"y":0.42},{"x":2236,"y":0.3},{"x":2250,"y":0.35},{"x":2266,"y":0.45},{"x":2270,"y":0.73},
{"x":2215,"y":0.55},{"x":2218,"y":0.64},{"x":2221,"y":0.7},{"x":2224,"y":0.6},{"x":2227,"y":0.66},{"x":2233,"y":0.58},{"x":2237,"y":0.63},{"x":2240,"y":0.52},{"x":2243,"y":0.68},{"x":2246,"y":0.59},{"x":2249,"y":0.72},{"x":2252,"y":0.6},{"x":2255,"y":0.65},{"x":2258,"y":0.55},{"x":2261,"y":0.6},{"x":2264,"y":0.71},{"x":2267,"y":0.58},{"x":2270,"y":0.64}
  ]
},
"vconcat": [
  {
    "width": 1130, "height": 299,
    "layer": [
      {"data": {"name": "pts"},
       "mark": {"type": "point", "shape": "circle", "filled": false, "stroke": "black", "strokeWidth": 0.8, "size": 85, "opacity": 1},
       "encoding": {
         "x": {"field": "x", "type": "quantitative", "scale": {"domain": [-88, 2365], "nice": false, "zero": false}, "axis": {"title": "Chromosome", "values": [0, 500, 1000, 1500, 2000], "format": "d"}},
         "y": {"field": "y", "type": "quantitative", "scale": {"domain": [-0.804, 2.914], "nice": false, "zero": false}, "axis": {"title": "log(T/R)", "values": [0, 1, 2], "format": "d"}}
       }},
      {"data": {"name": "bounds"}, "mark": {"type": "rule", "stroke": "black", "strokeWidth": 2.2}, "encoding": {"x": {"field": "x", "type": "quantitative"}}},
      {"data": {"name": "labs"}, "mark": {"type": "text", "font": "Liberation Sans", "fontSize": 32, "align": "center", "baseline": "alphabetic", "color": "black"},
       "encoding": {"x": {"field": "x", "type": "quantitative"}, "y": {"field": "y", "type": "quantitative"}, "text": {"field": "t"}}},
      {"data": {"name": "tagA"}, "mark": {"type": "text", "font": "Liberation Sans", "fontSize": 30, "align": "center", "baseline": "alphabetic", "color": "black"},
       "encoding": {"x": {"field": "x", "type": "quantitative"}, "y": {"field": "y", "type": "quantitative"}, "text": {"field": "t"}}}
    ]
  },
  {
    "width": 1130, "height": 299,
    "layer": [
      {"data": {"name": "bounds"}, "mark": {"type": "rule", "stroke": "black", "strokeWidth": 2.2},
       "encoding": {"x": {"field": "x", "type": "quantitative", "scale": {"domain": [-88, 2365], "nice": false, "zero": false}, "axis": {"title": "Chromosome", "values": [0, 500, 1000, 1500, 2000], "format": "d"}}}},
      {"data": {"name": "segs"}, "mark": {"type": "rule", "stroke": "#cc0000", "strokeWidth": 4.2, "strokeCap": "butt"},
       "encoding": {"x": {"field": "x0", "type": "quantitative"}, "x2": {"field": "x1"},
                    "y": {"field": "y", "type": "quantitative", "scale": {"domain": [-0.804, 2.914], "nice": false, "zero": false}, "axis": {"title": "log(T/R)", "values": [0, 1, 2], "format": "d"}}}},
      {"data": {"name": "tagB"}, "mark": {"type": "text", "font": "Liberation Sans", "fontSize": 30, "align": "center", "baseline": "alphabetic", "color": "black"},
       "encoding": {"x": {"field": "x", "type": "quantitative"}, "y": {"field": "y", "type": "quantitative"}, "text": {"field": "t"}}}
    ]
  }
]
}
